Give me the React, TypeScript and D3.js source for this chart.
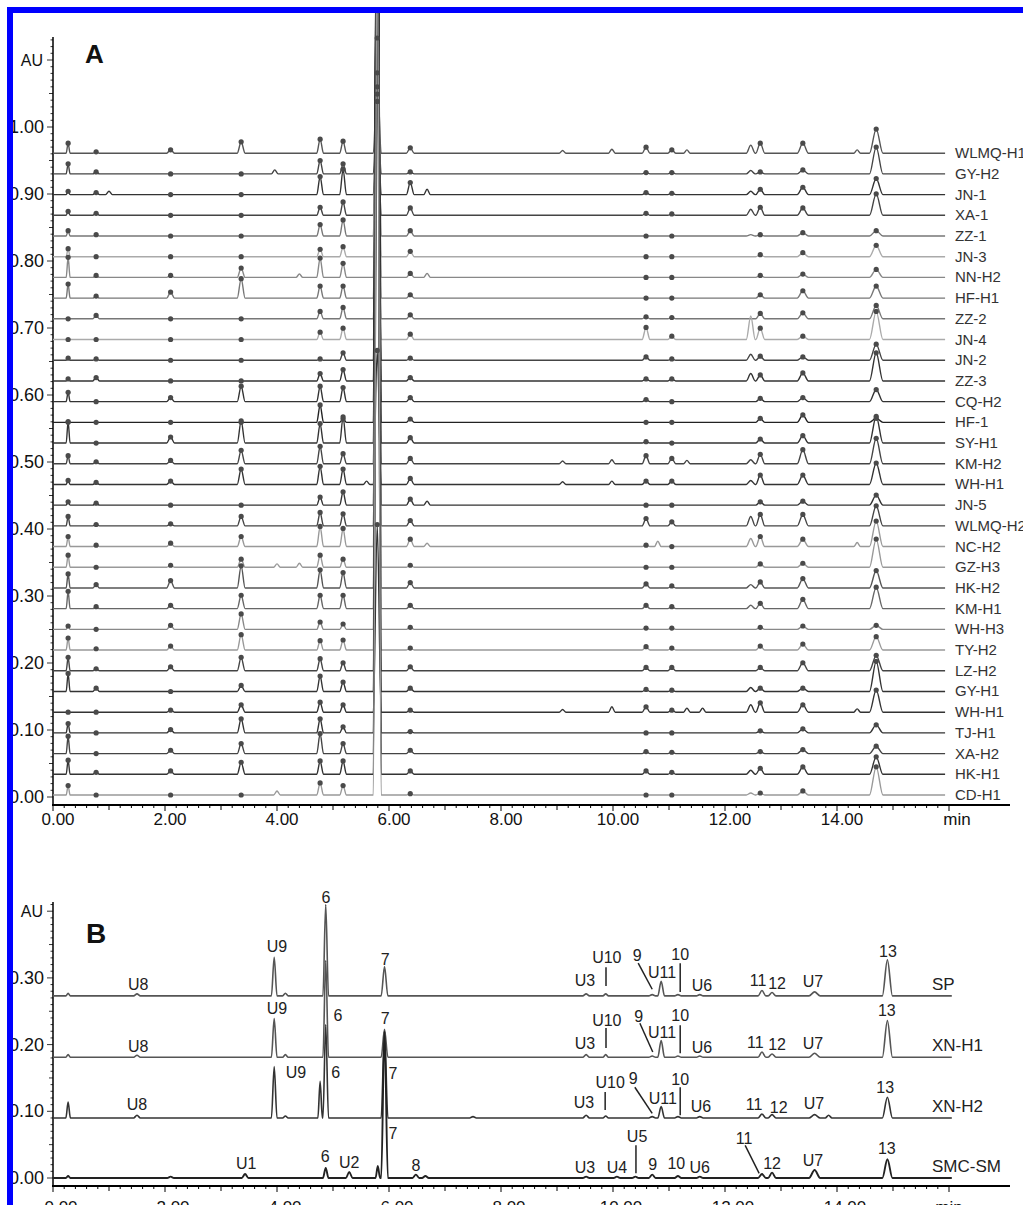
import React from 'react';
import * as d3 from 'd3';

const WIDTH = 1023;
const HEIGHT = 1205;
const FONT = 'Arial, "Liberation Sans", Helvetica, sans-serif';

// ---------- panel A: fingerprints of 32 batches ----------
const samplesA = [
  'WLMQ-H1', 'GY-H2', 'JN-1', 'XA-1', 'ZZ-1', 'JN-3', 'NN-H2', 'HF-H1',
  'ZZ-2', 'JN-4', 'JN-2', 'ZZ-3', 'CQ-H2', 'HF-1', 'SY-H1', 'KM-H2',
  'WH-H1', 'JN-5', 'WLMQ-H2', 'NC-H2', 'GZ-H3', 'HK-H2', 'KM-H1', 'WH-H3',
  'TY-H2', 'LZ-H2', 'GY-H1', 'WH-H1', 'TJ-H1', 'XA-H2', 'HK-H1', 'CD-H1',
];
// retention times (min) of the common peaks
const peakTimesA = [0.27, 0.77, 2.1, 3.36, 4.77, 5.18, 5.79, 6.38, 10.59, 11.05, 12.46, 12.63, 13.39, 14.7];
const peakHalfWidthA = [0.035, 0.06, 0.07, 0.07, 0.06, 0.06, 0.07, 0.07, 0.07, 0.07, 0.08, 0.08, 0.1, 0.12];
const peakMarkedA = [1, 1, 1, 1, 1, 1, 1, 1, 1, 1, 0, 1, 1, 1];
// peak heights above each trace's own baseline (mAU), one row per sample
const heightsA = [
  [15, 2, 5, 17, 21, 18, 120, 8, 9, 5, 12, 15, 15, 36],
  [15, 3, 0, 0, 20, 15, 130, 3, 2, 2, 5, 3, 6, 40],
  [5, 3, 0, 0, 27, 38, 150, 18, 3, 2, 5, 8, 11, 24],
  [6, 3, 0, 0, 12, 20, 170, 11, 3, 2, 9, 12, 11, 32],
  [8, 2, 0, 0, 17, 24, 420, 8, 0, 0, 2, 2, 5, 8],
  [12, 0, 0, 0, 11, 15, 380, 8, 0, 0, 0, 3, 6, 17],
  [30, 3, 3, 14, 29, 21, 520, 6, 0, 0, 0, 3, 5, 12],
  [21, 3, 9, 29, 18, 18, 600, 5, 0, 0, 0, 5, 11, 18],
  [0, 5, 0, 0, 11, 17, 480, 6, 3, 2, 0, 8, 9, 20],
  [0, 0, 0, 0, 11, 17, 450, 8, 18, 5, 35, 17, 5, 42],
  [3, 2, 0, 0, 2, 11, 700, 3, 5, 2, 9, 6, 5, 24],
  [3, 5, 0, 0, 11, 17, 800, 5, 3, 3, 11, 9, 12, 42],
  [14, 0, 6, 23, 23, 21, 900, 6, 3, 0, 0, 5, 6, 18],
  [0, 0, 0, 0, 26, 5, 950, 5, 0, 0, 0, 6, 11, 6],
  [32, 0, 9, 33, 29, 39, 1000, 8, 2, 0, 0, 6, 11, 40],
  [12, 3, 5, 20, 26, 15, 850, 8, 12, 8, 6, 14, 21, 38],
  [6, 3, 5, 23, 27, 23, 200, 9, 5, 5, 6, 14, 14, 32],
  [5, 3, 0, 0, 12, 20, 1100, 9, 0, 0, 0, 5, 6, 15],
  [14, 2, 3, 14, 20, 18, 900, 8, 11, 6, 14, 17, 17, 30],
  [15, 2, 5, 15, 30, 27, 800, 11, 2, 0, 12, 15, 11, 38],
  [18, 0, 3, 12, 18, 12, 1000, 3, 0, 0, 0, 5, 6, 42],
  [21, 5, 11, 33, 27, 23, 1100, 8, 6, 3, 5, 9, 14, 26],
  [26, 3, 5, 20, 20, 20, 1000, 5, 5, 3, 5, 8, 14, 32],
  [5, 0, 6, 23, 11, 8, 1050, 3, 2, 2, 0, 3, 5, 6],
  [18, 2, 6, 23, 14, 15, 1100, 3, 5, 3, 0, 6, 9, 20],
  [20, 3, 6, 20, 18, 12, 1150, 6, 5, 5, 0, 5, 12, 23],
  [27, 5, 0, 9, 23, 14, 1200, 5, 3, 2, 6, 5, 5, 45],
  [0, 0, 3, 11, 15, 11, 280, 3, 8, 3, 11, 14, 11, 33],
  [14, 0, 5, 21, 21, 9, 1250, 2, 0, 0, 0, 3, 6, 12],
  [26, 0, 5, 15, 30, 15, 1200, 5, 3, 2, 0, 3, 6, 11],
  [21, 3, 5, 18, 20, 20, 1250, 5, 5, 3, 6, 9, 11, 26],
  [14, 0, 0, 0, 18, 14, 1300, 2, 0, 0, 3, 3, 6, 42],
];
// small unmarked peaks: [sample index, time (min), height (mAU)]
const minorPeaksA: [number, number, number][] = [
  [1, 3.96, 6], [2, 1.0, 5], [2, 6.68, 8], [6, 6.68, 6], [17, 6.68, 6], [19, 6.68, 5],
  [0, 9.98, 6], [15, 9.98, 6], [16, 9.98, 5], [27, 9.98, 8],
  [0, 11.32, 5], [15, 11.32, 5], [27, 11.32, 6],
  [0, 14.36, 5], [19, 14.36, 6], [27, 14.36, 5],
  [31, 4.0, 6], [20, 4.0, 5], [6, 4.4, 5], [20, 4.4, 6],
  [19, 10.8, 8], [16, 5.6, 5], [27, 11.6, 6],
  [0, 9.1, 4], [15, 9.1, 4], [16, 9.1, 4], [27, 9.1, 4],
];
const shadeA = [
  '#555', '#444', '#333', '#444', '#777', '#aaa', '#888', '#777',
  '#777', '#aaa', '#444', '#333', '#333', '#222', '#333', '#444',
  '#333', '#333', '#444', '#999', '#999', '#555', '#666', '#888',
  '#999', '#444', '#333', '#333', '#333', '#444', '#333', '#999',
];

// ---------- panel B: reference, XN batches and SMC-SM ----------
const samplesB = ['SP', 'XN-H1', 'XN-H2', 'SMC-SM'];
const offsetsB = [0.273, 0.181, 0.09, 0.0];
const peakTimesB = [0.27, 1.5, 3.43, 3.95, 4.15, 4.77, 4.87, 5.29, 5.8, 5.92, 6.48, 9.52, 9.87, 10.07, 10.4, 10.7, 10.86, 11.16, 11.55, 12.66, 12.84, 13.6, 14.9];
const peakHalfWidthB = [0.04, 0.06, 0.06, 0.05, 0.05, 0.04, 0.05, 0.06, 0.04, 0.06, 0.06, 0.06, 0.05, 0.06, 0.06, 0.06, 0.06, 0.06, 0.06, 0.07, 0.07, 0.1, 0.09];
const heightsB = [
  [4, 3, 0, 58, 4, 0, 137, 0, 0, 44, 0, 3, 3, 0, 0, 2, 22, 2, 2, 8, 5, 6, 54],
  [4, 3, 0, 58, 4, 0, 145, 0, 0, 42, 0, 4, 4, 0, 0, 2, 25, 2, 2, 8, 5, 6, 55],
  [24, 4, 0, 77, 3, 55, 140, 0, 0, 130, 0, 4, 3, 0, 0, 2, 17, 2, 2, 6, 5, 5, 31],
  [3, 0, 6, 0, 0, 0, 15, 9, 18, 220, 5, 2, 0, 2, 2, 5, 0, 3, 2, 6, 8, 12, 28],
];
const minorPeaksB: [number, number, number][] = [
  [2, 13.85, 4], [3, 6.65, 3], [2, 7.5, 2], [3, 2.1, 2],
];
// peak labels: [sample index, text, time (min), AU]
const labelsB: [number, string, number, number][] = [
  [0, 'U8', 1.52, 0.291], [0, 'U9', 4.0, 0.348], [0, '6', 4.875, 0.421], [0, '7', 5.93, 0.328],
  [0, 'U3', 9.5, 0.297], [0, 'U10', 9.89, 0.331], [0, '9', 10.43, 0.334], [0, 'U11', 10.875, 0.309],
  [0, '10', 11.2, 0.336], [0, 'U6', 11.59, 0.289], [0, '11', 12.59, 0.297], [0, '12', 12.93, 0.292],
  [0, 'U7', 13.57, 0.295], [0, '13', 14.91, 0.34],
  [1, 'U8', 1.52, 0.198], [1, 'U9', 4.0, 0.255], [1, '6', 5.09, 0.244], [1, '7', 5.93, 0.24],
  [1, 'U3', 9.5, 0.202], [1, 'U10', 9.89, 0.237], [1, '9', 10.46, 0.243], [1, 'U11', 10.875, 0.219],
  [1, '10', 11.2, 0.244], [1, 'U6', 11.59, 0.196], [1, '11', 12.54, 0.204], [1, '12', 12.93, 0.201],
  [1, 'U7', 13.57, 0.202], [1, '13', 14.89, 0.252],
  [2, 'U8', 1.5, 0.111], [2, 'U9', 4.34, 0.159], [2, '6', 5.05, 0.159], [2, '7', 6.07, 0.157],
  [2, 'U3', 9.48, 0.114], [2, 'U10', 9.95, 0.144], [2, '9', 10.36, 0.15], [2, 'U11', 10.89, 0.12],
  [2, '10', 11.2, 0.148], [2, 'U6', 11.57, 0.108], [2, '11', 12.52, 0.111], [2, '12', 12.96, 0.106],
  [2, 'U7', 13.59, 0.112], [2, '13', 14.86, 0.136],
  [3, 'U1', 3.45, 0.022], [3, '6', 4.86, 0.033], [3, 'U2', 5.29, 0.024], [3, '7', 6.07, 0.067],
  [3, '8', 6.48, 0.019], [3, 'U3', 9.5, 0.016], [3, 'U4', 10.07, 0.016], [3, 'U5', 10.43, 0.063],
  [3, '9', 10.71, 0.021], [3, '10', 11.13, 0.022], [3, 'U6', 11.55, 0.016], [3, '11', 12.34, 0.06],
  [3, '12', 12.84, 0.022], [3, 'U7', 13.57, 0.027], [3, '13', 14.89, 0.045],
];
// leader lines from label to peak: [t1, AU1, t2, AU2]
const leadersB: [number, number, number, number][] = [
  [9.875, 0.316, 9.875, 0.288], [10.45, 0.322, 10.7, 0.283], [11.2, 0.322, 11.2, 0.279],
  [9.875, 0.225, 9.875, 0.195], [10.48, 0.232, 10.71, 0.189], [11.2, 0.229, 11.2, 0.187],
  [9.86, 0.129, 9.86, 0.102], [10.39, 0.136, 10.7, 0.097], [11.2, 0.136, 11.2, 0.094],
  [10.41, 0.049, 10.41, 0.007], [12.36, 0.049, 12.61, 0.007],
];
const strokeB = ['#555', '#555', '#333', '#222'];

type Peak = { t: number; h: number; w: number };

function tracePoints(peaks: Peak[], tStart: number, tEnd: number): [number, number][] {
  const ps = peaks.filter((p) => p.h > 0).sort((a, b) => a.t - b.t);
  const pts: [number, number][] = [[tStart, 0]];
  ps.forEach((p) => {
    const last = pts[pts.length - 1][0];
    const start = Math.max(p.t - p.w, last + 0.005);
    pts.push([start, 0], [p.t, p.h], [p.t + p.w, 0]);
  });
  pts.push([tEnd, 0]);
  return pts;
}

const xA = d3.scaleLinear().domain([0, 16]).range([53, 949]);
const yA = d3.scaleLinear().domain([0, 1]).range([797, 127]);
const xB = d3.scaleLinear().domain([0, 16]).range([53, 949]);
const yB = d3.scaleLinear().domain([0, 1]).range([1178, 511]);
const stackStepA = 0.0309;
const baseA = 0.003;

function XAxis({ x, y0, labelDy, numDx, minDx }: { x: d3.ScaleLinear<number, number>; y0: number; labelDy: number; numDx: number; minDx: number }) {
  const ticks = d3.range(0, 81);
  return (
    <g>
      <line x1={52} x2={1010} y1={y0} y2={y0} stroke="#000" strokeWidth={2} />
      {ticks.map((i) => {
        const len = i % 10 === 0 ? 6 : i % 5 === 0 ? 5 : 3;
        return <line key={i} x1={x(i / 5)} x2={x(i / 5)} y1={y0} y2={y0 + len} stroke="#000" strokeWidth={1} />;
      })}
      {d3.range(0, 16, 2).map((t) => (
        <text key={t} x={x(t) + numDx} y={y0 + labelDy} textAnchor="middle" fontSize={17} fill="#111">
          {t.toFixed(2)}
        </text>
      ))}
      <text x={x(16) + minDx} y={y0 + labelDy} textAnchor="middle" fontSize={17} fill="#111">min</text>
    </g>
  );
}

function YAxis({ y, top, bottom, maxLabel, auAt }: { y: d3.ScaleLinear<number, number>; top: number; bottom: number; maxLabel: number; auAt: number }) {
  const n = Math.floor((y.invert(top) + 1e-6) * 100);
  return (
    <g>
      <line x1={53} x2={53} y1={top} y2={bottom} stroke="#000" strokeWidth={1.5} />
      {d3.range(0, n + 1).map((i) => {
        const len = i % 10 === 0 ? 6 : i % 5 === 0 ? 4 : 2.5;
        return <line key={i} x1={53 - len} x2={53} y1={y(i / 100)} y2={y(i / 100)} stroke="#000" strokeWidth={0.8} />;
      })}
      {d3.range(0, maxLabel + 1).map((i) => (
        <text key={i} x={44} y={y(i / 10) + 6} textAnchor="end" fontSize={18} fill="#111">
          {(i / 10).toFixed(2)}
        </text>
      ))}
      <text x={43} y={y(auAt) + 6} textAnchor="end" fontSize={16} fill="#111">AU</text>
    </g>
  );
}

export default function App() {
  const lineA = (off: number) =>
    d3.line<[number, number]>().x((d) => xA(d[0])).y((d) => yA(off + d[1] / 1000)).curve(d3.curveMonotoneX);
  const lineB = (off: number) =>
    d3.line<[number, number]>().x((d) => xB(d[0])).y((d) => yB(off + d[1] / 1000)).curve(d3.curveMonotoneX);

  const tracesA = samplesA.map((name, i) => {
    const off = baseA + (samplesA.length - 1 - i) * stackStepA;
    const peaks: Peak[] = peakTimesA.map((t, k) => ({ t, h: heightsA[i][k], w: peakHalfWidthA[k] }));
    minorPeaksA.filter((m) => m[0] === i).forEach((m) => peaks.push({ t: m[1], h: m[2], w: 0.06 }));
    return { name, off, d: lineA(off)(tracePoints(peaks, 0, 15.93)) || '' };
  });

  const tracesB = samplesB.map((name, i) => {
    const off = offsetsB[i];
    const peaks: Peak[] = peakTimesB.map((t, k) => ({ t, h: heightsB[i][k], w: peakHalfWidthB[k] }));
    minorPeaksB.filter((m) => m[0] === i).forEach((m) => peaks.push({ t: m[1], h: m[2], w: 0.06 }));
    return { name, off, d: lineB(off)(tracePoints(peaks, 0, 16.05)) || '' };
  });

  return (
    <svg
      width={WIDTH}
      height={HEIGHT}
      style={{ position: 'absolute', left: 0, top: 0, background: '#fff' }}
      fontFamily={FONT}
    >
      <defs>
        <clipPath id="clipA">
          <rect x={13} y={13} width={WIDTH} height={805} />
        </clipPath>
      </defs>
      <rect x={0} y={0} width={WIDTH} height={HEIGHT} fill="#fff" />

      {/* panel A */}
      <text x={85} y={63} fontSize={26} fontWeight="bold" fill="#111">A</text>
      <YAxis y={yA} top={37} bottom={805} maxLabel={10} auAt={1.1} />
      <XAxis x={xA} y0={805} labelDy={20} numDx={5} minDx={8} />
      <g clipPath="url(#clipA)">
        {tracesA.map((tr, i) => (
          <path key={i} d={tr.d} fill="none" stroke={shadeA[i]} strokeWidth={1.4} />
        ))}
        {tracesA.map((tr, i) =>
          peakTimesA.map((t, k) =>
            peakMarkedA[k] ? (
              <circle key={`${i}-${k}`} cx={xA(t)} cy={yA(tr.off + heightsA[i][k] / 1000)} r={2.6} fill="#4a4a4a" />
            ) : null,
          ),
        )}
      </g>
      {tracesA.map((tr, i) => (
        <text key={i} x={955} y={yA(tr.off) + 5} fontSize={15} fill="#333">{tr.name}</text>
      ))}

      {/* panel B */}
      <text x={86} y={943} fontSize={28} fontWeight="bold" fill="#111">B</text>
      <YAxis y={yB} top={902} bottom={1186} maxLabel={3} auAt={0.4} />
      <XAxis x={xB} y0={1186} labelDy={27} numDx={8} minDx={0} />
      {tracesB.map((tr, i) => (
        <path key={i} d={tr.d} fill="none" stroke={strokeB[i]} strokeWidth={i === 3 ? 1.9 : 1.6} />
      ))}
      {leadersB.map((l, i) => (
        <line key={i} x1={xB(l[0])} y1={yB(l[1])} x2={xB(l[2])} y2={yB(l[3])} stroke="#222" strokeWidth={1.5} />
      ))}
      {labelsB.map((l, i) => (
        <text key={i} x={xB(l[2])} y={yB(l[3]) + 6} textAnchor="middle" fontSize={16} fill="#222">{l[1]}</text>
      ))}
      {tracesB.map((tr, i) => (
        <text key={i} x={932} y={yB(tr.off) - 6} fontSize={17} fill="#222">{tr.name}</text>
      ))}

      {/* selection frame */}
      <rect x={10} y={10} width={WIDTH + 200} height={HEIGHT + 200} fill="none" stroke="#0000ff" strokeWidth={6} />
    </svg>
  );
}
